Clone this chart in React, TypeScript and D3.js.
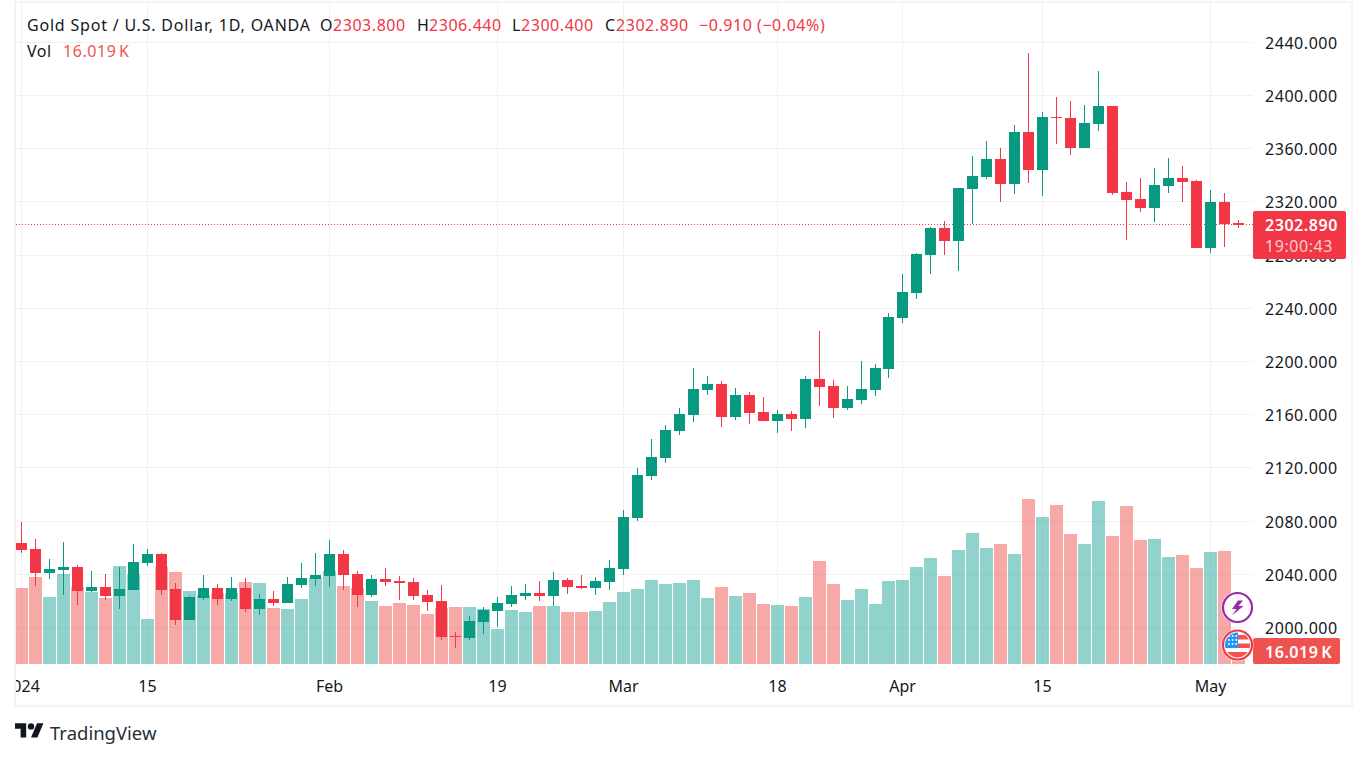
import React from 'react';
import * as d3 from 'd3';

const opens = [2063.6,2059.1,2041.0,2043.3,2045.5,2027.5,2030.5,2023.8,2028.3,2048.6,2055.3,2029.0,2005.7,2022.3,2029.8,2021.5,2029.8,2014.0,2021.5,2018.5,2032.0,2036.5,2038.8,2055.3,2040.3,2024.5,2036.5,2035.0,2034.3,2024.5,2020.0,1993.7,1992.2,2004.2,2012.5,2017.7,2023.7,2026.0,2023.7,2035.8,2031.3,2029.7,2034.3,2044.0,2082.3,2113.9,2127.4,2147.7,2159.8,2178.5,2183.0,2158.2,2174.8,2162.0,2155.2,2160.5,2156.7,2186.8,2181.5,2165.0,2171.0,2178.6,2194.3,2232.7,2251.5,2280.0,2300.3,2290.5,2329.6,2338.6,2352.2,2333.4,2372.5,2343.9,2383.7,2383.0,2360.4,2378.5,2392.0,2327.4,2322.1,2315.3,2331.9,2337.9,2335.6,2285.3,2319.9,2303.8];
const highs = [2079.4,2066.6,2051.6,2064.3,2047.1,2042.5,2040.3,2045.5,2062.8,2059.1,2056.1,2033.5,2023.8,2039.5,2032.8,2038.0,2037.3,2025.3,2027.5,2038.0,2048.6,2056.1,2065.8,2058.3,2042.5,2039.5,2044.8,2038.8,2037.3,2028.3,2032.0,1996.7,2008.7,2015.5,2023.0,2031.2,2032.8,2035.0,2041.8,2037.3,2039.5,2038.0,2050.8,2088.4,2119.9,2141.7,2152.2,2165.0,2195.1,2189.1,2185.3,2180.0,2177.0,2173.3,2163.5,2162.8,2189.1,2222.9,2186.1,2181.5,2200.3,2198.1,2236.4,2265.7,2281.5,2301.1,2305.6,2330.4,2354.4,2365.7,2360.4,2377.7,2431.8,2387.5,2398.8,2395.8,2392.8,2418.3,2392.0,2334.9,2337.9,2345.4,2352.9,2346.9,2336.1,2328.9,2326.6,2306.44];
const lows = [2056.3,2031.3,2036.5,2024.5,2017.0,2026.8,2020.8,2014.0,2028.0,2046.3,2024.5,2002.0,2005.7,2020.8,2017.0,2020.0,2011.7,2009.5,2016.2,2018.5,2029.8,2031.3,2030.5,2028.3,2015.5,2023.0,2031.3,2020.8,2020.8,2012.5,1990.7,1984.7,1990.7,1995.2,2000.4,2015.5,2020.7,2020.0,2016.2,2025.2,2029.0,2024.5,2028.2,2039.5,2080.1,2110.9,2123.7,2144.7,2154.5,2174.8,2150.7,2156.0,2153.0,2155.2,2146.2,2147.7,2150.0,2166.5,2157.5,2163.5,2168.0,2174.1,2187.6,2228.9,2247.0,2265.7,2280.0,2268.0,2303.1,2337.1,2319.9,2325.9,2334.1,2324.4,2363.4,2355.2,2360.4,2373.2,2325.1,2291.3,2312.3,2304.8,2326.6,2319.9,2285.3,2281.5,2286.0,2300.4];
const closes = [2058.3,2041.0,2044.0,2045.5,2027.5,2030.5,2023.8,2029.0,2049.3,2055.3,2028.3,2005.7,2023.0,2029.8,2021.5,2029.8,2014.0,2021.5,2018.5,2032.8,2037.3,2039.5,2055.3,2039.5,2024.5,2036.5,2034.3,2033.5,2023.8,2019.2,1992.9,1992.9,2004.9,2013.2,2018.5,2024.5,2026.0,2023.7,2035.8,2030.5,2029.7,2035.0,2044.8,2083.1,2114.7,2128.2,2148.5,2160.5,2179.3,2183.0,2158.2,2174.8,2161.3,2155.2,2160.5,2156.7,2186.8,2180.8,2165.0,2171.8,2179.3,2195.1,2233.4,2252.2,2280.8,2300.3,2290.5,2330.4,2339.4,2352.2,2333.4,2372.5,2343.9,2383.7,2383.2,2360.4,2379.2,2392.0,2326.6,2321.4,2315.3,2332.6,2337.9,2334.9,2285.3,2319.9,2303.1,2302.89];
const volumes = [93.6,107.2,82.5,110.9,94.9,88.7,81.3,120.7,110.9,55.4,119.5,113.3,89.9,85.0,87.5,87.5,101.0,99.8,69.0,67.8,80.1,106.0,114.6,96.1,93.6,77.6,71.5,75.2,72.7,61.6,69.0,70.2,70.2,67.8,43.1,66.5,64.1,71.5,71.5,64.1,64.1,65.3,76.4,88.7,92.4,103.5,98.6,99.8,103.5,81.3,94.9,83.8,87.5,73.9,72.7,71.5,82.5,126.9,98.6,78.8,92.4,73.9,102.3,103.5,119.5,130.6,108.4,140.4,161.4,142.9,147.8,135.5,203.3,181.1,195.9,160.2,147.8,200.8,157.7,194.7,152.8,154.0,131.8,134.3,118.3,138.0,139.2,16.019];
const priceTicks = [2000,2040,2080,2120,2160,2200,2240,2280,2320,2360,2400,2440];
const timeTickIndex = [0,9,22,34,43,54,63,73,85];
const timeTickLabels = ['2024','15','Feb','19','Mar','18','Apr','15','May'];
const lastPrice = 2302.89;

const GREEN = '#089981', RED = '#f23645';
const VOL_GREEN = 'rgba(38,166,154,0.5)', VOL_RED = 'rgba(239,83,80,0.5)';
const INK = '#131722', GRID = '#f0f1f3';
const FONT = "'Noto Sans', sans-serif";
const PANE = { left: 16, right: 1253, top: 3, bottom: 664 };

const x = d3.scaleLinear().domain([0, 61, 62, 87]).range([21.5, 875.5, 888.5, 1238.5]);
const y = d3.scaleLinear().domain([2000, 2400]).range([627.6, 95.4]);
const v = d3.scaleLinear().domain([0, 203.3]).range([664, 499]);
const px = (i: number) => Math.floor(x(i));

const header = [
  ['O', '2303.800', 320, 333], ['H', '2306.440', 417, 429], ['L', '2300.400', 512, 521], ['C', '2302.890', 605, 616],
] as [string, string, number, number][];

export default function App() {
  const ls = 0.55;
  return (
    <svg width={1361} height={759} style={{ position: 'absolute', left: 0, top: 0, background: '#fff' }} fontFamily={FONT}>
      <defs>
        <clipPath id="pane"><rect x={PANE.left} y={PANE.top} width={PANE.right - PANE.left} height={PANE.bottom - PANE.top} /></clipPath>
        <clipPath id="axisclip"><rect x={PANE.left} y={670} width={1300} height={34} /></clipPath>
        <clipPath id="flag"><circle cx={1237.5} cy={645} r={12.5} /></clipPath>
      </defs>
      <rect x={15} y={2} width={1337} height={704} fill="#fff" stroke="#f0f3fa" strokeWidth={2} />

      <g shapeRendering="crispEdges" stroke={GRID}>
        {timeTickIndex.map(i => <line key={i} x1={px(i) + 0.5} x2={px(i) + 0.5} y1={PANE.top} y2={PANE.bottom} />)}
        {priceTicks.map(p => <line key={p} x1={PANE.left} x2={PANE.right} y1={Math.floor(y(p)) + 0.5} y2={Math.floor(y(p)) + 0.5} />)}
      </g>

      <g clipPath="url(#pane)" shapeRendering="crispEdges">
        {volumes.map((val, i) => (
          <rect key={i} x={px(i) - 6} width={13} y={v(val)} height={664 - v(val)} fill={closes[i] >= opens[i] ? VOL_GREEN : VOL_RED} />
        ))}
        <line x1={PANE.left} x2={PANE.right} y1={224.5} y2={224.5} stroke={RED} strokeDasharray="1 2" />
        {opens.map((o, i) => {
          const c = closes[i];
          const col = c >= o ? GREEN : RED;
          const top = Math.round(y(Math.max(o, c)));
          const bot = Math.round(y(Math.min(o, c)));
          return (
            <g key={i} fill={col}>
              <rect x={px(i)} width={1} y={y(highs[i])} height={y(lows[i]) - y(highs[i])} />
              <rect x={px(i) - 5} width={11} y={top} height={Math.max(1, bot - top)} />
            </g>
          );
        })}
      </g>

      <g fontSize={16} fill={INK} letterSpacing={ls} dominantBaseline="central">
        {priceTicks.map(p => <text key={p} x={1265} y={y(p) + 0.5}>{d3.format('.3f')(p)}</text>)}
      </g>
      <g fontSize={16} fill={INK} textAnchor="middle" dominantBaseline="central" clipPath="url(#axisclip)">
        {timeTickIndex.map((i, k) => <text key={i} x={px(i) + 0.5} y={686}>{timeTickLabels[k]}</text>)}
      </g>

      <rect x={1253} y={211} width={93} height={48} rx={2} fill={RED} />
      <text x={1265} y={225} fontSize={16} fontWeight={600} fill="#fff" letterSpacing={ls} dominantBaseline="central">{d3.format('.3f')(lastPrice)}</text>
      <text x={1265} y={246} fontSize={16} fill="#fff" fillOpacity={0.75} letterSpacing={ls} dominantBaseline="central">19:00:43</text>
      <rect x={1253} y={638} width={87} height={26} rx={2} fill="#ef5350" />
      <text x={1265} y={651.5} fontSize={16} fontWeight={600} fill="#fff" letterSpacing={ls} wordSpacing={-2} dominantBaseline="central">16.019 K</text>

      <g fontSize={16} dominantBaseline="central" letterSpacing={0.55}>
        <text x={27} y={25} fill={INK} letterSpacing={0.8}>Gold Spot / U.S. Dollar, 1D, OANDA</text>
        {header.map(([l, val, lx, tx]) => (
          <g key={l}>
            <text x={lx} y={25} fill={INK}>{l}</text>
            <text x={tx} y={25} fill={RED}>{val}</text>
          </g>
        ))}
        <text x={699} y={25} fill={RED}>−0.910 (−0.04%)</text>
        <text x={27} y={51} fill={INK}>Vol</text>
        <text x={63} y={51} fill="#ef5350" wordSpacing={-2}>16.019 K</text>
      </g>

      <circle cx={1237.5} cy={607.5} r={16} fill="#fff" />
      <circle cx={1237.5} cy={607.5} r={14.5} fill="#fff" stroke="#9c27b0" strokeWidth={2.2} />
      <path d="M1243 600.5 L1238 600.5 L1232 609 L1236.5 609 L1232 615.5 L1243.5 606 L1238.5 606 Z" fill="#9c27b0" />

      <circle cx={1237.5} cy={645} r={16} fill="#fff" />
      <circle cx={1237.5} cy={645} r={14.5} fill="#fff" stroke={RED} strokeWidth={2.2} />
      <g clipPath="url(#flag)">
        <rect x={1225} y={632.5} width={25} height={25} fill="#fff" />
        <rect x={1238} y={635} width={13} height={4.5} fill="#ef5350" />
        <rect x={1238} y={643.5} width={13} height={4.5} fill="#ef5350" />
        <rect x={1224} y={652} width={27} height={6} fill="#ef5350" />
        <rect x={1224} y={632} width={14} height={16} fill="#2196f3" />
        {[0, 1, 2].flatMap(a => [0, 1, 2].map(b => <circle key={`${a}${b}`} cx={1229 + b * 3.6} cy={636 + a * 4} r={0.95} fill="#fff" />))}
      </g>

      <g transform="translate(15 720) scale(0.8)" fill={INK}>
        <path d="M14 22H7V11H0V4h14v18zM28 22h-8l7.5-18h8L28 22z" />
        <circle cx={20} cy={8} r={4} />
      </g>
      <text x={50} y={732.5} fontSize={18.5} fill="#2a2e39" dominantBaseline="central">TradingView</text>
    </svg>
  );
}
